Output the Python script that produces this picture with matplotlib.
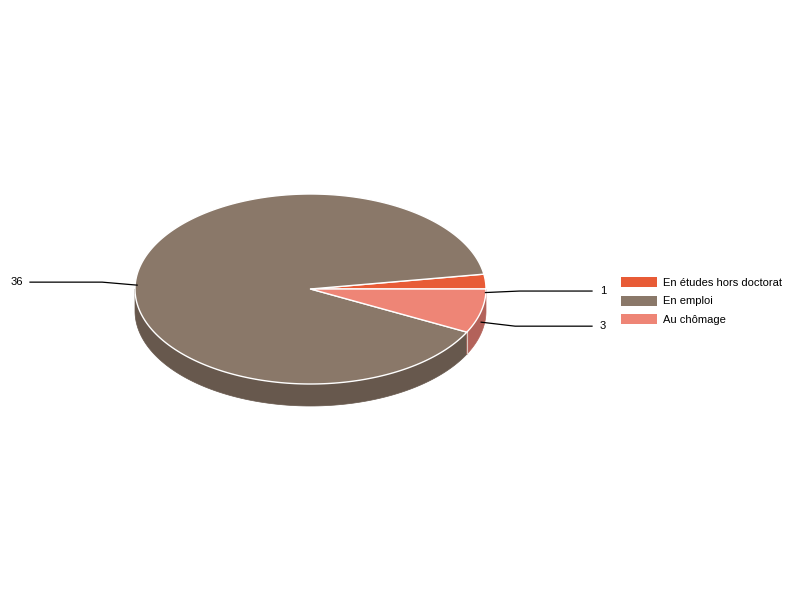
import numpy as np
import matplotlib.pyplot as plt
from matplotlib.patches import Polygon, Patch

plt.rcParams['font.family'] = ['Liberation Sans', 'DejaVu Sans']

labels = ['En études hors doctorat', 'En emploi', 'Au chômage']
values = [1, 36, 3]
top_colors = ['#E85B36', '#8A7869', '#EE8576']
side_colors = ['#A9432A', '#67584D', '#B3625A']

# layout of the 3d pie in pixels
cx, cy, rx, ry, depth = 310.5, 289, 175.5, 95, 22
label_shift = [-1.5, -3, 4]

fig = plt.figure(figsize=(8, 6), dpi=100)
ax = fig.add_axes([0, 0, 1, 1])
ax.set_xlim(0, 800)
ax.set_ylim(600, 0)
ax.axis('off')

total = sum(values)
bounds = np.concatenate([[0], np.cumsum(values)]) / total * 360.0


def pt(a, dy=0):
    r = np.radians(a)
    return cx + rx * np.cos(r), cy - ry * np.sin(r) + dy


# side walls (only the front half, 180..360 deg)
for i in range(len(values)):
    s, e = max(bounds[i], 180), min(bounds[i + 1], 360)
    if e <= s:
        continue
    angs = np.linspace(s, e, 120)
    top = [pt(a) for a in angs]
    bot = [pt(a, depth) for a in angs[::-1]]
    ax.add_patch(Polygon(top + bot, closed=True, fc=side_colors[i],
                         ec=side_colors[i], lw=0.5, zorder=1))
# side cut line between emploi and chômage
x0, y0 = pt(bounds[2])
ax.plot([x0, x0], [y0, y0 + depth], color='#d9c9c0', lw=0.8, zorder=2)

# top faces
for i in range(len(values)):
    angs = np.linspace(bounds[i], bounds[i + 1], 300)
    poly = [(cx, cy)] + [pt(a) for a in angs]
    ax.add_patch(Polygon(poly, closed=True, fc=top_colors[i], ec='white',
                         lw=1.0, joinstyle='round', zorder=3))

# value labels with leader lines
for i, v in enumerate(values):
    mid = (bounds[i] + bounds[i + 1]) / 2
    ax_, ay_ = pt(mid, depth / 2)
    ly = ay_ + label_shift[i]
    if np.cos(np.radians(mid)) >= 0:
        ex, tx, ha = ax_ + 34, 592, 'left'
        txt_x = tx + 8
    else:
        ex, tx, ha = ax_ - 35, 30, 'right'
        txt_x = tx - 7
    ax.plot([ax_, ex, tx], [ay_, ly, ly], color='black', lw=0.9, zorder=4)
    ax.text(txt_x, ly, str(v), ha=ha, va='center', fontsize=8, color='black')

handles = [Patch(fc=c, ec='none') for c in top_colors]
fig.legend(handles, labels, loc='upper left', bbox_to_anchor=(621 / 800, 1 - 277 / 600),
           frameon=False, fontsize=8, handlelength=3.2, handleheight=1.05,
           handletextpad=0.55, labelspacing=0.68, borderpad=0, borderaxespad=0)

fig.savefig('out.png', dpi=100)
